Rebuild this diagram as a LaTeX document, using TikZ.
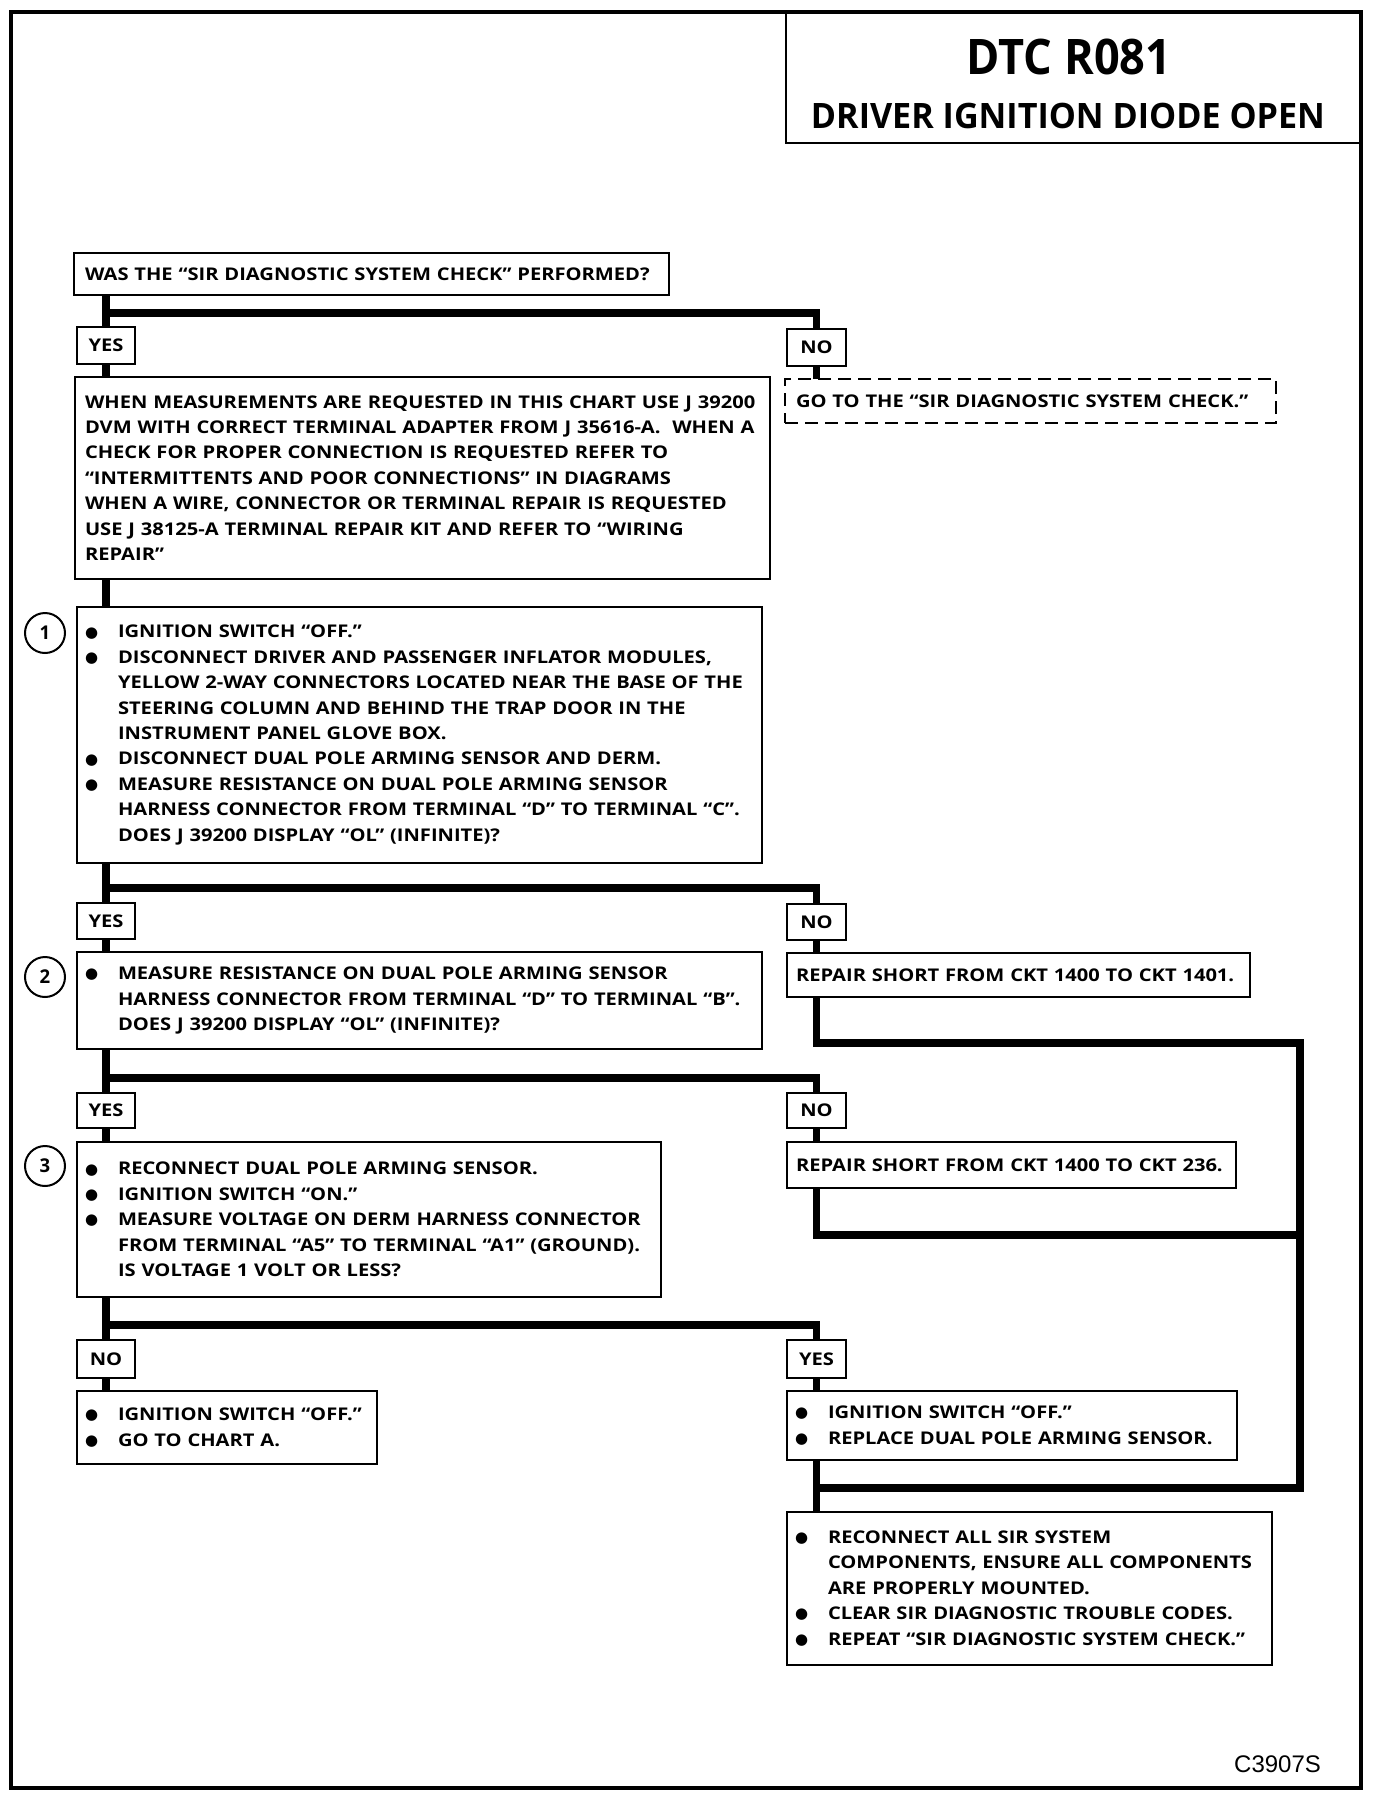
\documentclass[tikz,border=0pt]{standalone}
\usepackage{fontspec}
\setmainfont{Open Sans}[FakeStretch=1.15]
\newfontfamily\tfontA{Open Sans}[FakeStretch=0.92]
\newfontfamily\tfontB{Open Sans}[FakeStretch=0.975]
\newfontfamily\symfont{DejaVu Sans}
\newfontfamily\codefont{Liberation Sans}
\newcommand\bodyfont{\fontsize{8.75pt}{12.7pt}\selectfont\bfseries}
\newcommand\pl[1]{\mbox{#1}}
\newcommand\bl[1]{\makebox[16.5pt][l]{\raisebox{0.4pt}{\symfont\fontsize{7.5pt}{8pt}\selectfont ●}}\mbox{#1}}
\newcommand\cl[1]{\hspace*{16.5pt}\mbox{#1}}
\newcommand\mybox[8][]{%
  \pgfmathsetmacro\myW{(#5-#3)*0.5}%
  \pgfmathsetmacro\myH{(#6-#4)*0.5}%
  \pgfmathsetmacro\myT{(#5-#3-2*#7)*0.5}%
  \pgfmathsetmacro\myP{#7*0.5}%
  \node[box,#1,minimum width=\myW pt,minimum height=\myH pt,text width=\myT pt,inner xsep=\myP pt] (#2) at (#3,#4) {#8};}
\tikzset{
  box/.style={draw,line width=1.3pt,rectangle,inner ysep=0pt,outer sep=0pt,align=left,font=\bodyfont,anchor=north west},
  conn/.style={line width=3.6pt,line join=miter},
  num/.style={draw,circle,line width=1pt,inner sep=0pt,minimum size=20pt,font={\tfontB\fontsize{9.5pt}{10pt}\selectfont\bfseries}},
  dashbox/.style={dashed,dash pattern=on 6.5pt off 3.5pt,line width=1pt}
}
\begin{document}
\begin{tikzpicture}[x=0.5pt,y=-0.5pt]
\fill[white] (0,0) rectangle (1376,1800);
\useasboundingbox (0,0) rectangle (1376,1800);
\draw[line width=2pt] (11,12) rectangle (1361,1788);
% title
\node[draw,line width=1pt,anchor=north west,minimum width=288pt,minimum height=65pt,inner sep=0pt] (title) at (785,12) {};
\node[anchor=base,font={\tfontA\fontsize{24.5pt}{26pt}\selectfont\bfseries}] (t1) at (1069,74.5) {DTC R081};
\node[anchor=base,font={\tfontB\fontsize{17.5pt}{19pt}\selectfont\bfseries}] (t2) at (1068,128.5) {DRIVER IGNITION DIODE OPEN};
% boxes
\mybox{q0}{74}{253}{669}{295}{11}{\pl{WAS THE “SIR DIAGNOSTIC SYSTEM CHECK” PERFORMED?}}
\mybox[align=center]{yes1}{77}{327}{135}{364}{3}{YES}
\mybox[align=center]{no1}{787}{329}{846}{366}{3}{NO}
\mybox{info}{75}{377}{770}{579}{10}{\pl{WHEN MEASUREMENTS ARE REQUESTED IN THIS CHART USE J 39200}\\
\pl{DVM WITH CORRECT TERMINAL ADAPTER FROM J 35616-A.\ \ WHEN A}\\
\pl{CHECK FOR PROPER CONNECTION IS REQUESTED REFER TO}\\
\pl{“INTERMITTENTS AND POOR CONNECTIONS” IN DIAGRAMS}\\
\pl{WHEN A WIRE, CONNECTOR OR TERMINAL REPAIR IS REQUESTED}\\
\pl{USE J 38125-A TERMINAL REPAIR KIT AND REFER TO “WIRING}\\
\pl{REPAIR”}}
\mybox[dashbox]{goto}{785}{379}{1276}{423}{11}{\pl{GO TO THE “SIR DIAGNOSTIC SYSTEM CHECK.”}}
\mybox{box1}{77}{607}{762}{863}{8}{\bl{IGNITION SWITCH “OFF.”}\\
\bl{DISCONNECT DRIVER AND PASSENGER INFLATOR MODULES,}\\
\cl{YELLOW 2-WAY CONNECTORS LOCATED NEAR THE BASE OF THE}\\
\cl{STEERING COLUMN AND BEHIND THE TRAP DOOR IN THE}\\
\cl{INSTRUMENT PANEL GLOVE BOX.}\\
\bl{DISCONNECT DUAL POLE ARMING SENSOR AND DERM.}\\
\bl{MEASURE RESISTANCE ON DUAL POLE ARMING SENSOR}\\
\cl{HARNESS CONNECTOR FROM TERMINAL “D” TO TERMINAL “C”.}\\
\cl{DOES J 39200 DISPLAY “OL” (INFINITE)?}}
\node[num] (c1) at (45,633) {1};
\mybox[align=center]{yes2}{77}{903}{135}{939}{3}{YES}
\mybox[align=center]{no2}{787}{904}{846}{940}{3}{NO}
\mybox{box2}{77}{952}{762}{1049}{8}{\bl{MEASURE RESISTANCE ON DUAL POLE ARMING SENSOR}\\
\cl{HARNESS CONNECTOR FROM TERMINAL “D” TO TERMINAL “B”.}\\
\cl{DOES J 39200 DISPLAY “OL” (INFINITE)?}}
\node[num] (c2) at (45,977) {2};
\mybox{rep1}{787}{953}{1250}{997}{9}{\pl{REPAIR SHORT FROM CKT 1400 TO CKT 1401.}}
\mybox[align=center]{yes3}{77}{1093}{135}{1128}{3}{YES}
\mybox[align=center]{no3}{787}{1093}{846}{1128}{3}{NO}
\mybox{box3}{77}{1142}{661}{1297}{8}{\bl{RECONNECT DUAL POLE ARMING SENSOR.}\\
\bl{IGNITION SWITCH “ON.”}\\
\bl{MEASURE VOLTAGE ON DERM HARNESS CONNECTOR}\\
\cl{FROM TERMINAL “A5” TO TERMINAL “A1” (GROUND).}\\
\cl{IS VOLTAGE 1 VOLT OR LESS?}}
\node[num] (c3) at (45,1166) {3};
\mybox{rep2}{787}{1142}{1236}{1188}{9}{\pl{REPAIR SHORT FROM CKT 1400 TO CKT 236.}}
\mybox[align=center]{no4}{77}{1340}{135}{1378}{3}{NO}
\mybox[align=center]{yes4}{787}{1340}{846}{1378}{3}{YES}
\mybox{nores}{77}{1391}{377}{1464}{8}{\bl{IGNITION SWITCH “OFF.”}\\
\bl{GO TO CHART A.}}
\mybox{yesres}{787}{1391}{1237}{1460}{8}{\bl{IGNITION SWITCH “OFF.”}\\
\bl{REPLACE DUAL POLE ARMING SENSOR.}}
\mybox{final}{787}{1512}{1272}{1665}{8}{\bl{RECONNECT ALL SIR SYSTEM}\\
\cl{COMPONENTS, ENSURE ALL COMPONENTS}\\
\cl{ARE PROPERLY MOUNTED.}\\
\bl{CLEAR SIR DIAGNOSTIC TROUBLE CODES.}\\
\bl{REPEAT “SIR DIAGNOSTIC SYSTEM CHECK.”}}
\node[anchor=base east,font={\codefont\fontsize{12pt}{14pt}\selectfont}] (code) at (1328,1772) {C3907S};
% connectors
\coordinate (b1) at (0,313);
\coordinate (b2) at (0,888);
\coordinate (b3) at (0,1078);
\coordinate (b4) at (0,1325);
\coordinate (rx) at (1300,0);
\coordinate (l1) at (0,1043);
\coordinate (l2) at (0,1235);
\coordinate (l3) at (0,1488);
\draw[conn] (yes1.north |- q0.south) -- (yes1.north);
\draw[conn] (yes1.north |- b1) -- (no1.north |- b1) -- (no1.north);
\draw[conn] (yes1.south) -- (yes1.south |- info.north);
\draw[conn] (no1.south) -- (no1.south |- goto.north);
\draw[conn] (yes1.south |- info.south) -- (yes1.south |- box1.north);
\draw[conn] (yes2.north |- box1.south) -- (yes2.north);
\draw[conn] (yes2.north |- b2) -- (no2.north |- b2) -- (no2.north);
\draw[conn] (yes2.south) -- (yes2.south |- box2.north);
\draw[conn] (no2.south) -- (no2.south |- rep1.north);
\draw[conn] (yes3.north |- box2.south) -- (yes3.north);
\draw[conn] (yes3.north |- b3) -- (no3.north |- b3) -- (no3.north);
\draw[conn] (yes3.south) -- (yes3.south |- box3.north);
\draw[conn] (no3.south) -- (no3.south |- rep2.north);
\draw[conn] (no4.north |- box3.south) -- (no4.north);
\draw[conn] (no4.north |- b4) -- (yes4.north |- b4) -- (yes4.north);
\draw[conn] (no4.south) -- (no4.south |- nores.north);
\draw[conn] (yes4.south) -- (yes4.south |- yesres.north);
\draw[conn] (no2.south |- rep1.south) -- (no2.south |- l1) -- (rx |- l1) -- (rx |- l3) -- (yes4.south |- l3);
\draw[conn] (no3.south |- rep2.south) -- (no3.south |- l2) -- (rx |- l2);
\draw[conn] (yes4.south |- yesres.south) -- (yes4.south |- final.north);
\end{tikzpicture}
\end{document}
